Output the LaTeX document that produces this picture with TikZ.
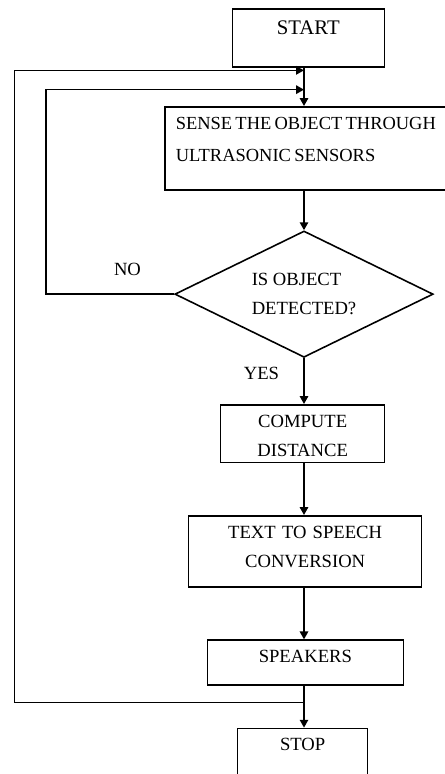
\documentclass[tikz,border=0pt]{standalone}
\usepackage{fontspec}
\setmainfont{Liberation Serif}
\usetikzlibrary{shapes.geometric,arrows.meta,calc}

\tikzset{
  box/.style={draw, anchor=north, align=center, inner xsep=0pt, inner ysep=5pt,
    text height=7.75pt},
  decision/.style={draw, diamond, aspect=2, inner sep=0pt, align=left},
}
\newcommand{\tightspace}{\spaceskip=0.18em\relax}

\begin{document}
\begin{tikzpicture}[line width=0.9pt, >={Triangle[length=4.5pt,width=4.8pt]},
  font=\fontsize{10.6}{16.7}\selectfont]
\useasboundingbox (0,0) rectangle (8.88,-15.48);
\coordinate (axis) at (6.08,0);

% blocks
\node[box, font=\fontsize{11.8}{14}\selectfont, text width=3.04cm, text height=9.6pt, text depth=13.4pt] (start) at (6.166,-0.166) {START};
\node[box, anchor=north west, align=left, inner xsep=0.22cm, text width=5.8cm, text depth=29.65pt,
  font=\fontsize{10.5}{16.7}\selectfont] (sense) at (3.28,-2.12) {\tightspace SENSE THE OBJECT THROUGH\\[1.5pt]ULTRASONIC SENSORS};
\node[decision, minimum width=5.167cm, minimum height=2.527cm] (check) at (6.08,-5.883) {IS OBJECT\\DETECTED?};
\node[box, text width=3.28cm, text depth=15.05pt] (compute) at (6.053,-8.08) {COMPUTE\\DISTANCE};
\node[box, text width=4.66cm, text depth=22.65pt] (tts) at (6.103,-10.3) {TEXT TO SPEECH\\CONVERSION};
\node[box, text width=3.92cm, text depth=7.65pt] (speakers) at (6.107,-12.787) {SPEAKERS};
\node[box, text width=2.6cm, text depth=20pt] (stop) at (6.053,-14.553) {STOP};

\node (no) at (2.55,-5.39) {NO};
\node (yes) at (5.23,-7.467) {YES};

% main line
\draw[->] (start.south -| axis) -- (sense.north -| axis);
\draw[->] (sense.south -| axis) -- (check.north);
\draw[->] (check.south) -- (compute.north -| axis);
\draw[->] (compute.south -| axis) -- (tts.north -| axis);
\draw[->] (tts.south -| axis) -- (speakers.north -| axis);
\draw[->] (speakers.south -| axis) -- (stop.north -| axis);

% loops back
\coordinate (top1) at (6.08,-1.407);
\coordinate (top2) at (6.08,-1.793);
\coordinate (split) at (6.08,-14.053);
\draw[->] (split) -- ++(-5.793,0) |- (top1);
\draw[->] (check.west) -- ++(-2.564,0) |- (top2);
\end{tikzpicture}
\end{document}
